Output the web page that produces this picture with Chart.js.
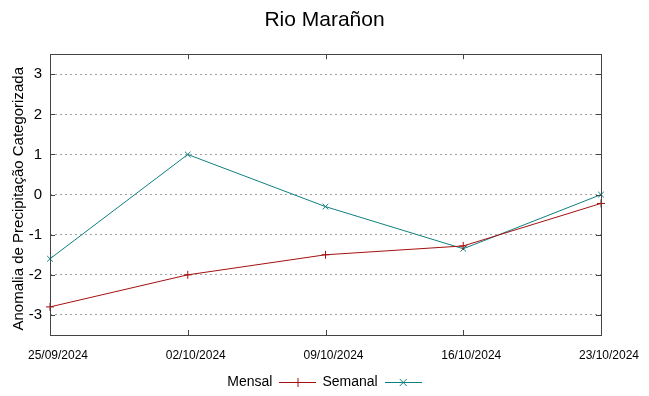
<!DOCTYPE html>
<html>
<head>
<meta charset="utf-8">
<script src="https://cdn.jsdelivr.net/npm/chart.js@4/dist/chart.umd.min.js"></script>
<style>
html,body{margin:0;padding:0;background:#fff;}
#wrap{width:649px;height:396px;}
</style>
</head>
<body>
<div id="wrap"><canvas id="c" width="649" height="396"></canvas></div>
<script>
const titleText = 'Rio Marañon';
const yTitle = 'Anomalia de Precipitação Categorizada';
const categories = ['25/09/2024', '02/10/2024', '09/10/2024', '16/10/2024', '23/10/2024'];
const mensal = [-2.8, -2.0, -1.5, -1.28, -0.22];
const semanal = [-1.6, 1.0, -0.3, -1.35, 0.0];
const yTicks = [-3, -2, -1, 0, 1, 2, 3];
const seriesNames = ['Mensal', 'Semanal'];

const RED = '#a51010';
const TEAL = '#0e8080';

function legendImage(color, style) {
  const cv = document.createElement('canvas');
  cv.width = 37; cv.height = 10;
  const g = cv.getContext('2d');
  g.strokeStyle = color; g.lineWidth = 1;
  g.beginPath(); g.moveTo(0, 5.5); g.lineTo(37, 5.5); g.stroke();
  g.beginPath();
  if (style === 'cross') {
    g.moveTo(18.5, 1); g.lineTo(18.5, 10); g.moveTo(14, 5.5); g.lineTo(23, 5.5);
  } else {
    g.moveTo(15, 2); g.lineTo(22, 9); g.moveTo(22, 2); g.lineTo(15, 9);
  }
  g.stroke();
  return cv;
}

const frame = {
  id: 'frame',
  afterDatasetsDraw(chart) {
    const {ctx, chartArea: a, scales} = chart;
    ctx.save();
    ctx.strokeStyle = '#444';
    ctx.lineWidth = 1;
    ctx.strokeRect(Math.round(a.left) + 0.5, Math.round(a.top) + 0.5, Math.round(a.right - a.left), Math.round(a.bottom - a.top));
    ctx.beginPath();
    yTicks.forEach(v => {
      const y = Math.round(scales.y.getPixelForValue(v)) + 0.5;
      ctx.moveTo(a.left, y); ctx.lineTo(a.left + 5, y);
      ctx.moveTo(a.right, y); ctx.lineTo(a.right - 5, y);
    });
    categories.forEach((c, i) => {
      const x = Math.round(scales.x.getPixelForValue(i)) + 0.5;
      ctx.moveTo(x, a.bottom); ctx.lineTo(x, a.bottom - 5);
      ctx.moveTo(x, a.top); ctx.lineTo(x, a.top + 5);
    });
    ctx.stroke();
    ctx.restore();
  }
};

new Chart(document.getElementById('c'), {
  type: 'line',
  data: {
    labels: categories,
    datasets: [
      {label: seriesNames[0], data: mensal, borderColor: RED, backgroundColor: RED, borderWidth: 1,
       pointStyle: 'cross', pointRadius: 4, pointBorderWidth: 1, tension: 0},
      {label: seriesNames[1], data: semanal, borderColor: TEAL, backgroundColor: TEAL, borderWidth: 1,
       pointStyle: 'crossRot', pointRadius: 4, pointBorderWidth: 1, tension: 0}
    ]
  },
  options: {
    responsive: false,
    animation: false,
    devicePixelRatio: 1,
    layout: {padding: {left: 0, right: 0, top: 0, bottom: -3}},
    plugins: {
      title: {display: true, text: titleText, color: '#000',
        font: {family: 'Liberation Sans, Arial, sans-serif', size: 21, weight: 'normal'},
        padding: {top: 8, bottom: 21}},
      legend: {display: true, position: 'bottom', rtl: true, reverse: true,
        labels: {
          color: '#000', font: {family: 'Liberation Sans, Arial, sans-serif', size: 14},
          usePointStyle: true, pointStyleWidth: 37, padding: 6,
          generateLabels(chart) {
            return chart.data.datasets.map((d, i) => ({
              text: d.label, datasetIndex: i, fontColor: '#000',
              pointStyle: legendImage(d.borderColor, d.pointStyle),
              strokeStyle: d.borderColor, fillStyle: d.borderColor, lineWidth: 1, hidden: false
            }));
          }
        }},
      tooltip: {enabled: false}
    },
    scales: {
      x: {
        type: 'category', offset: false,
        grid: {display: false, drawTicks: false},
        border: {display: false},
        ticks: {color: '#000', padding: 13, labelOffset: 8, maxRotation: 0, autoSkip: false,
          font: {family: 'Liberation Sans, Arial, sans-serif', size: 12}},
        afterFit(s) { s.height = 34; }
      },
      y: {
        min: -3.5, max: 3.5,
        afterBuildTicks(s) { s.ticks = yTicks.map(v => ({value: v})); },
        grid: {color: '#a0a0a0', lineWidth: 1, drawTicks: false},
        border: {display: false, dash: [2, 3]},
        ticks: {color: '#000', padding: 8, font: {family: 'Liberation Sans, Arial, sans-serif', size: 15}},
        title: {display: true, text: yTitle + '  ', color: '#000', padding: {top: 10, bottom: 0},
          font: {family: 'Liberation Sans, Arial, sans-serif', size: 15}},
        afterFit(s) { s.width = 50; }
      },
      y2: {
        position: 'right', min: -3.5, max: 3.5,
        grid: {display: false, drawTicks: false}, border: {display: false},
        ticks: {display: false},
        afterFit(s) { s.width = 48; }
      }
    }
  },
  plugins: [frame]
});
</script>
</body>
</html>
